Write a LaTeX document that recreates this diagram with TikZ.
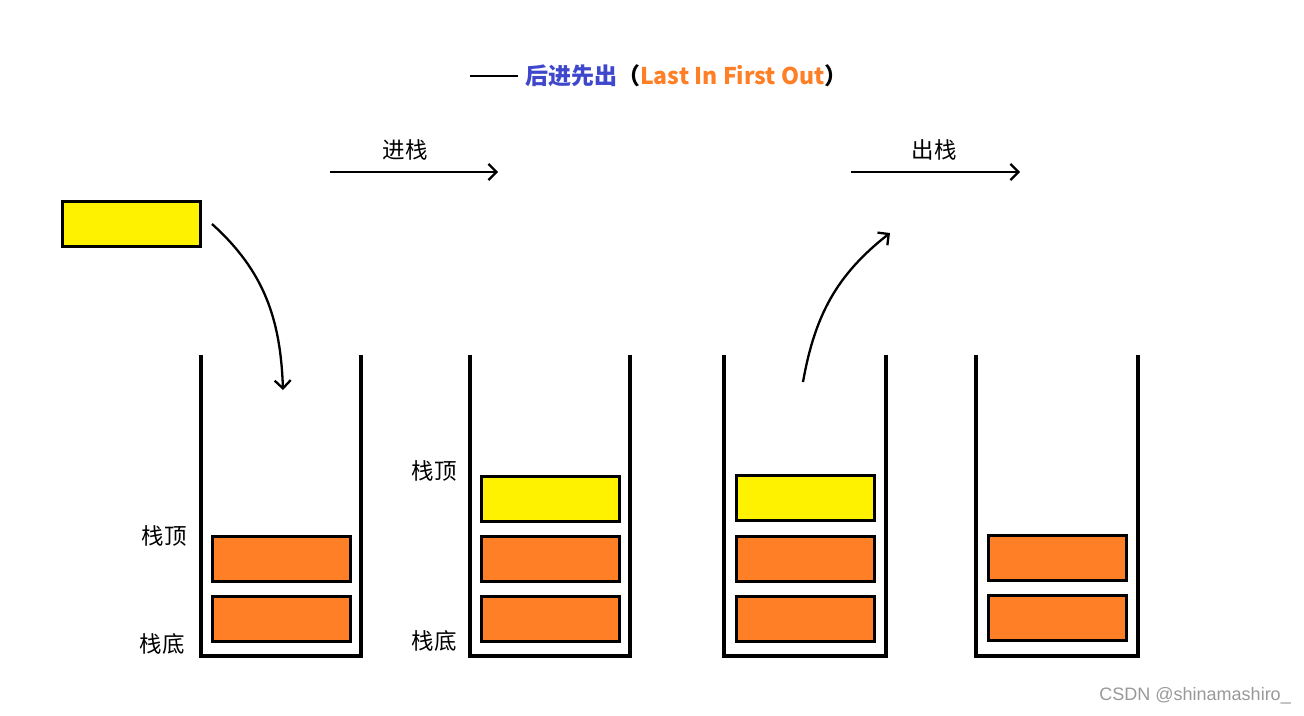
\documentclass[tikz,border=0pt]{standalone}
\usepackage{fontspec}
\newfontfamily\cjk{Noto Sans CJK SC}
\newfontfamily\wm{Liberation Sans}
\usetikzlibrary{arrows.meta}
\definecolor{boxorange}{HTML}{FF7F27}
\definecolor{boxyellow}{HTML}{FFF200}
\definecolor{titleblue}{HTML}{3F48CC}
\tikzset{
  wall/.style={line width=4pt, line cap=rect},
  elem/.style={draw=black, line width=3pt, minimum width=138pt, minimum height=45pt, inner sep=0pt, anchor=north west},
  orangebox/.style={elem, fill=boxorange},
  yellowbox/.style={elem, fill=boxyellow},
  lbl/.style={font=\cjk\fontsize{22.5}{24}\selectfont, inner sep=0pt},
  flow/.style={line width=2.3pt, -{Straight Barb[length=8pt, width=16pt, line width=2.3pt]}},
}
\begin{document}
\begin{tikzpicture}[x=1pt, y=-1pt]
\useasboundingbox (0,0) rectangle (1304,715);
\fill[white] (0,0) rectangle (1304,715);

% title
\coordinate (dashs) at (470,76);
\coordinate (dashe) at (518,76);
\draw[line width=2.5pt] (dashs) -- (dashe);
\node[font=\cjk\bfseries\fontsize{23}{25}\selectfont, inner sep=0pt, anchor=west] (title) at (525,76)
  {\textcolor{titleblue}{后进先出}（\textcolor{boxorange}{Last In First Out}）};

% stacks
\draw[wall] (201,357) coordinate (s1tl) -- (201,656) -- (361,656) -- (361,357) coordinate (s1tr);
\draw[wall] (470,357) coordinate (s2tl) -- (470,656) -- (630,656) -- (630,357) coordinate (s2tr);
\draw[wall] (724,357) coordinate (s3tl) -- (724,656) -- (886,656) -- (886,357) coordinate (s3tr);
\draw[wall] (976,357) coordinate (s4tl) -- (976,656) -- (1138,656) -- (1138,357) coordinate (s4tr);

% elements
\node[yellowbox] (new) at (61,200) {};
\node[orangebox] (a1) at (211,535) {};
\node[orangebox] (b1) at (211,595) {};
\node[yellowbox] (c2) at (480,475) {};
\node[orangebox] (a2) at (480,535) {};
\node[orangebox] (b2) at (480,595) {};
\node[yellowbox] (c3) at (735,474) {};
\node[orangebox] (a3) at (735,535) {};
\node[orangebox] (b3) at (735,595) {};
\node[orangebox] (a4) at (987,534) {};
\node[orangebox] (b4) at (987,594) {};

% labels
\node[lbl] (top1) at (164,536) {栈顶};
\node[lbl] (bot1) at (162,644) {栈底};
\node[lbl] (top2) at (434,471) {栈顶};
\node[lbl] (bot2) at (434,641) {栈底};

% push / pop arrows
\node[lbl] (push) at (405,150) {进栈};
\coordinate (pushs) at (330,172);
\coordinate (pushe) at (498,172);
\draw[flow] (pushs) -- (pushe);
\node[lbl] (pop) at (934,150) {出栈};
\coordinate (pops) at (851,172);
\coordinate (pope) at (1020,172);
\draw[flow] (pops) -- (pope);

% curved arrows
\coordinate (c1s) at (212,224);
\coordinate (c1e) at (283,390);
\draw[flow] (c1s) to[out=-42, in=92] (c1e);
\coordinate (c2s) at (803,382);
\coordinate (c2e) at (890,233);
\draw[flow] (c2s) to[out=80, in=218] (c2e);

% watermark
\node[font=\wm\fontsize{18}{20}\selectfont, text=black!40, anchor=east, inner sep=0pt] (wmark) at (1291,696) {CSDN @shinamashiro\_};
\end{tikzpicture}
\end{document}
